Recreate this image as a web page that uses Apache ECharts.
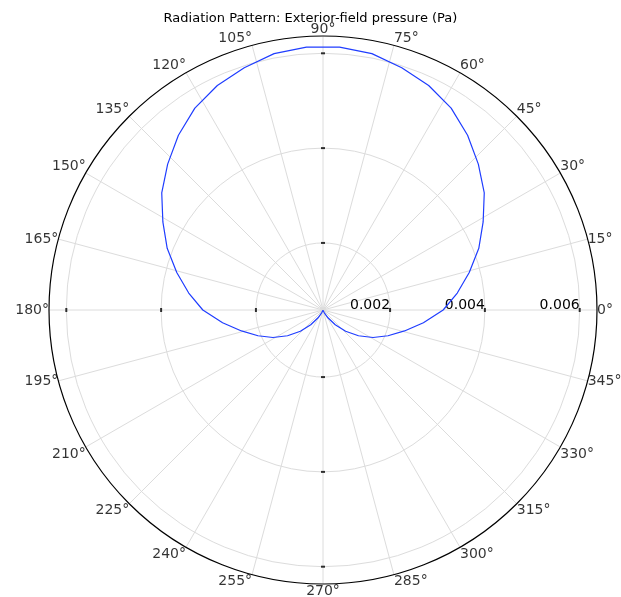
<!DOCTYPE html>
<html>
<head>
<meta charset="utf-8">
<script src="https://cdn.jsdelivr.net/npm/echarts@6/dist/echarts.min.js"></script>
<style>
  html, body { margin: 0; padding: 0; background: #fff; }
  #chart { width: 621px; height: 597px; }
</style>
</head>
<body>
<div id="chart"></div>
<script>
// Sample angles (degrees) of the far-field evaluation, one every 7.2°
const angles = [
  0, 7.2, 14.4, 21.6, 28.8, 36, 43.2, 50.4, 57.6, 64.8,
  72, 79.2, 86.4, 93.6, 100.8, 108, 115.2, 122.4, 129.6, 136.8,
  144, 151.2, 158.4, 165.6, 172.8, 180, 187.2, 194.4, 201.6, 208.8,
  216, 223.2, 230.4, 237.6, 244.8, 252, 259.2, 266.4, 273.6, 280.8,
  288, 295.2, 302.4, 309.6, 316.8, 324, 331.2, 338.4, 345.6, 352.8
];

// Exterior-field pressure magnitude (Pa) at each angle
const pressure = [
  0.00312, 0.00344, 0.00377, 0.00412, 0.00444, 0.00479, 0.00508, 0.00537, 0.00563, 0.00582,
  0.00596, 0.00609, 0.00614, 0.00614, 0.00609, 0.00596, 0.00582, 0.00563, 0.00537, 0.00508,
  0.00479, 0.00444, 0.00412, 0.00377, 0.00344, 0.00312, 0.00272, 0.00236, 0.00206, 0.00179,
  0.00151, 0.00124, 0.00099, 0.00078, 0.00065, 0.00061, 0.00059, 0.000585, 0.000585, 0.00059,
  0.00061, 0.00065, 0.00078, 0.00099, 0.00124, 0.00151, 0.00179, 0.00206, 0.00236, 0.00272
];

// Radial range and tick values
const radiusMin = 0.000585;
const radiusMax = 0.006365;
const radiusTicks = [0.002, 0.004, 0.006];
const tickAngles = [0, 90, 180, 270];

// Angular tick labels every 15°
const angleTicks = [0, 15, 30, 45, 60, 75, 90, 105, 120, 135, 150, 165,
                    180, 195, 210, 225, 240, 255, 270, 285, 300, 315, 330, 345];

const titleText = 'Radiation Pattern: Exterior-field pressure (Pa)';

// Closed polar curve: [radius, angle]
const curve = angles.map((a, i) => [pressure[i], a]);
curve.push([pressure[0], angles[0]]);

// Small tick marks where the radial grid circles meet the cardinal spokes
const tickMarks = [];
tickAngles.forEach(a => {
  radiusTicks.forEach(r => {
    tickMarks.push({
      value: [r, a],
      symbolSize: (a % 180 === 0) ? [2, 4] : [4, 2]
    });
  });
});

// Angle labels sit just outside the rim; the corner nearest the rim touches it
const PAD = 2;
const angleLabelData = angleTicks.map(a => {
  const rad = a * Math.PI / 180;
  const c = Math.cos(rad), s = Math.sin(rad);
  const eps = 1e-6;
  let align = 'center', vAlign = 'middle', dx = c * PAD, dy = -s * PAD;
  if (c > eps) align = 'left';
  else if (c < -eps) align = 'right';
  if (Math.abs(s) > 0.3) {
    vAlign = s > 0 ? 'bottom' : 'top';
  } else if (Math.abs(s) > eps) {
    dy = s > 0 ? -5 : 6;
  }
  return {
    value: [radiusMax, a],
    label: { align: align, verticalAlign: vAlign, offset: [dx, dy] }
  };
});

const chart = echarts.init(document.getElementById('chart'), null, { renderer: 'canvas' });

chart.setOption({
  animation: false,
  backgroundColor: '#ffffff',
  title: {
    text: titleText,
    left: 'center',
    top: 7,
    textStyle: {
      fontFamily: 'DejaVu Sans',
      fontSize: 13,
      fontWeight: 'normal',
      color: '#000'
    }
  },
  polar: {
    center: [323, 310],
    radius: 274
  },
  angleAxis: {
    type: 'value',
    min: 0,
    max: 360,
    interval: 15,
    startAngle: 0,
    clockwise: false,
    axisLine: { show: true, lineStyle: { color: '#000', width: 1.2 } },
    axisTick: { show: false },
    axisLabel: { show: false },
    splitLine: { show: true, lineStyle: { color: '#dcdcdc', width: 1 } }
  },
  radiusAxis: {
    type: 'value',
    min: radiusMin,
    max: radiusMax,
    axisLine: { show: false },
    axisTick: { show: false, customValues: radiusTicks },
    axisLabel: {
      show: true,
      customValues: radiusTicks,
      align: 'right',
      verticalAlign: 'bottom',
      margin: -2,
      inside: true,
      fontFamily: 'DejaVu Sans',
      fontSize: 14,
      color: '#000',
      formatter: v => v.toFixed(3)
    },
    splitLine: { show: true, lineStyle: { color: '#dcdcdc', width: 1 } }
  },
  series: [
    {
      type: 'scatter',
      coordinateSystem: 'polar',
      symbol: 'rect',
      itemStyle: { color: '#000' },
      data: tickMarks,
      z: 3,
      silent: true
    },
    {
      type: 'line',
      coordinateSystem: 'polar',
      data: curve,
      symbol: 'none',
      smooth: false,
      lineStyle: { color: '#1f3dff', width: 1.2 },
      z: 4
    },
    {
      type: 'scatter',
      coordinateSystem: 'polar',
      symbolSize: 0,
      silent: true,
      data: angleLabelData,
      label: {
        show: true,
        position: [0, 0],
        distance: 0,
        fontFamily: 'DejaVu Sans',
        fontSize: 14,
        color: '#000',
        formatter: p => p.value[1] + '°'
      },
      labelLayout: { hideOverlap: false },
      z: 5
    }
  ]
});
</script>
</body>
</html>
